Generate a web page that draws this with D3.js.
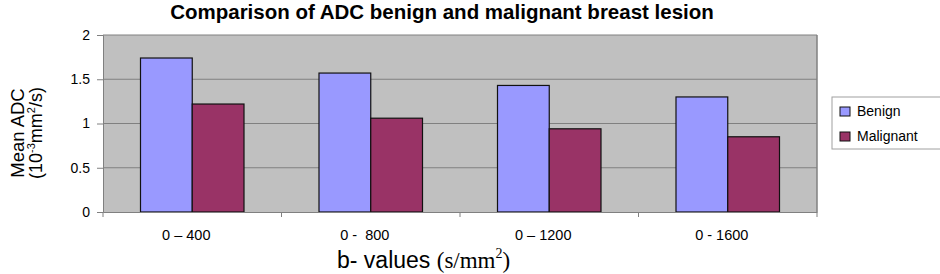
<!DOCTYPE html>
<html lang="en">
<head>
  <meta charset="UTF-8">
  <title>Comparison of ADC benign and malignant breast lesion</title>
  <script src="https://d3js.org/d3.v7.min.js"></script>
  <style>
    body { margin: 0; background: white; }
    svg { display: block; font-family: Arial, "Liberation Sans", sans-serif; }
  </style>
</head>
<body>
<svg width="940" height="274"></svg>
<script>
  const categories = ["0 \u2013 400", "0 -  800", "0 \u2013 1200", "0 - 1600"];
  const series = ["Benign", "Malignant"];
  const benign = [1.74, 1.57, 1.43, 1.30];
  const malignant = [1.22, 1.06, 0.94, 0.85];
  const yTicks = [0, 0.5, 1, 1.5, 2];

  const colors = { Benign: "#9999ff", Malignant: "#993366" };
  const values = { Benign: benign, Malignant: malignant };

  const svg = d3.select("svg"),
        margin = { top: 35, right: 123, bottom: 62, left: 103 },
        width = +svg.attr("width") - margin.left - margin.right,
        height = +svg.attr("height") - margin.top - margin.bottom,
        chart = svg.append("g").attr("transform", `translate(${margin.left},${margin.top})`);

  const x = d3.scaleBand().domain(categories).range([0, width]).paddingInner(0).paddingOuter(0);
  const x1 = d3.scaleBand().domain(series).range([37.5, x.bandwidth() - 37.5]);
  const y = d3.scaleLinear().domain([0, 2]).range([height, 0]);

  // plot area
  chart.append("rect")
    .attr("width", width).attr("height", height)
    .attr("fill", "#c0c0c0");

  // gridlines
  chart.selectAll(".grid").data(yTicks.filter(d => d > 0)).enter()
    .append("line")
    .attr("x1", 0).attr("x2", width)
    .attr("y1", d => y(d)).attr("y2", d => y(d))
    .attr("stroke", "#808080").attr("stroke-width", 1);

  // right border
  chart.append("line")
    .attr("x1", width).attr("x2", width).attr("y1", 0).attr("y2", height)
    .attr("stroke", "#808080").attr("stroke-width", 1.5);

  // bars
  const groups = chart.selectAll(".cat").data(categories).enter()
    .append("g").attr("transform", d => `translate(${x(d)},0)`);

  groups.selectAll("rect").data((c, i) => series.map(s => ({ s, v: values[s][i] })))
    .enter().append("rect")
    .attr("x", d => x1(d.s))
    .attr("y", d => y(d.v))
    .attr("width", x1.bandwidth())
    .attr("height", d => height - y(d.v))
    .attr("fill", d => colors[d.s])
    .attr("stroke", "#111").attr("stroke-width", 1.2);

  // y axis
  const yAxis = chart.append("g")
    .call(d3.axisLeft(y).tickValues(yTicks).tickFormat(d3.format("")).tickSize(6).tickPadding(7));
  yAxis.select(".domain").attr("stroke", "#808080");
  yAxis.selectAll(".tick line").attr("stroke", "#808080");
  yAxis.selectAll("text").attr("font-size", 14).attr("fill", "#000")
    .attr("font-family", "Arial, 'Liberation Sans', sans-serif");

  // x axis
  const xAxis = chart.append("g").attr("transform", `translate(0,${height})`)
    .call(d3.axisBottom(x).tickSize(0).tickPadding(18));
  xAxis.select(".domain").attr("stroke", "#808080");
  xAxis.selectAll("text").attr("font-size", 14.5).attr("fill", "#000")
    .attr("dx", -6)
    .attr("font-family", "Arial, 'Liberation Sans', sans-serif")
    .style("white-space", "pre");
  // boundary ticks between categories
  chart.selectAll(".btick").data(d3.range(categories.length + 1)).enter()
    .append("line")
    .attr("x1", i => i * x.step()).attr("x2", i => i * x.step())
    .attr("y1", height).attr("y2", height + 5)
    .attr("stroke", "#808080");

  // title
  svg.append("text")
    .attr("x", 442).attr("y", 19)
    .attr("text-anchor", "middle")
    .attr("font-size", 20.5).attr("font-weight", "bold")
    .text("Comparison of ADC benign and malignant breast lesion");

  // x axis title
  const xt = svg.append("text")
    .attr("x", 337).attr("y", 268)
    .attr("font-size", 23);
  xt.append("tspan").text("b- values ");
  xt.append("tspan").attr("font-family", "'Liberation Serif', 'DejaVu Serif', serif").text("(s/mm");
  xt.append("tspan").attr("font-family", "'Liberation Serif', 'DejaVu Serif', serif")
    .attr("font-size", 14).attr("dy", -10).text("2");
  xt.append("tspan").attr("font-family", "'Liberation Serif', 'DejaVu Serif', serif")
    .attr("dy", 10).text(")");

  // y axis title
  const yt = svg.append("g").attr("transform", "translate(0,133) rotate(-90)");
  yt.append("text").attr("x", 0).attr("y", 24).attr("text-anchor", "middle")
    .attr("font-size", 18.5).text("Mean ADC");
  const yt2 = yt.append("text").attr("x", 0).attr("y", 42).attr("text-anchor", "middle")
    .attr("font-size", 18);
  yt2.append("tspan").text("(10");
  yt2.append("tspan").attr("font-size", 11).attr("dy", -7).text("-3");
  yt2.append("tspan").attr("dy", 7).text("mm");
  yt2.append("tspan").attr("font-size", 11).attr("dy", -7).text("2");
  yt2.append("tspan").attr("dy", 7).text("/s)");

  // legend
  const legend = svg.append("g").attr("transform", "translate(832,97)");
  legend.append("rect")
    .attr("width", 120).attr("height", 52)
    .attr("fill", "white").attr("stroke", "#a0a0a0");
  series.forEach((s, i) => {
    const row = legend.append("g").attr("transform", `translate(8,${10 + i * 25})`);
    row.append("rect").attr("width", 10).attr("height", 9)
      .attr("fill", colors[s]).attr("stroke", "#111");
    row.append("text").attr("x", 17).attr("y", 9)
      .attr("font-size", 14).text(s);
  });
</script>
</body>
</html>
